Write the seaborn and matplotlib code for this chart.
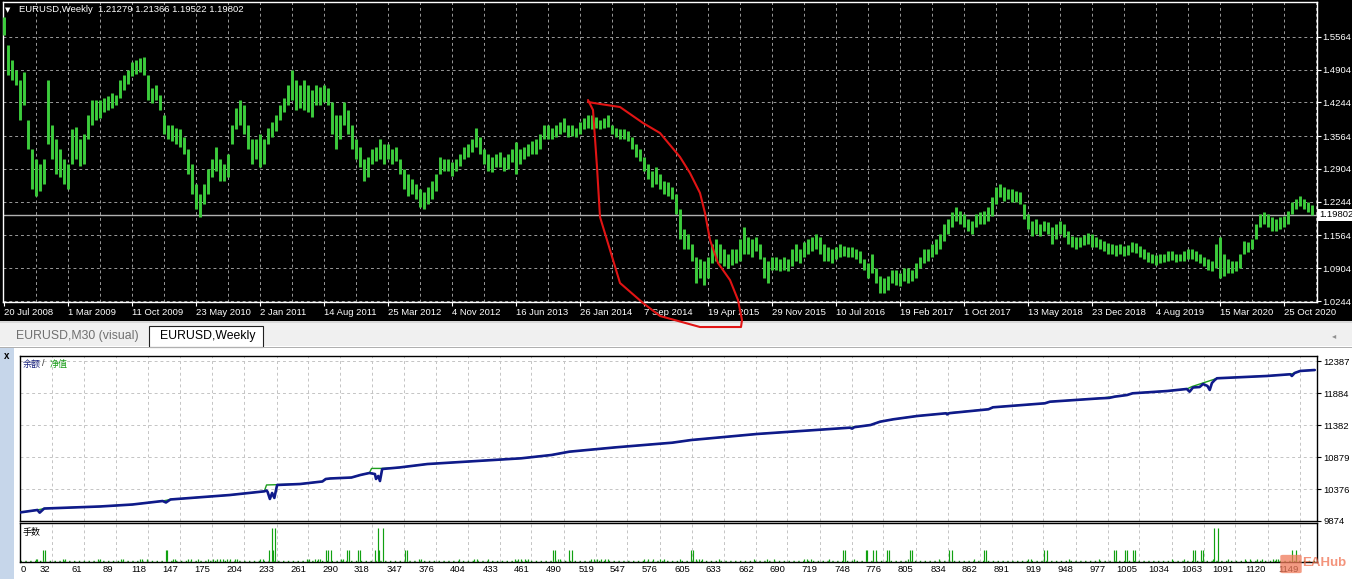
import numpy as np
import pandas as pd
import matplotlib
matplotlib.use("Agg")
import matplotlib.pyplot as plt
import matplotlib.transforms as mtransforms
from matplotlib.patches import Rectangle, FancyBboxPatch
import seaborn as sns

# ---------------- data ----------------
title_text = "EURUSD,Weekly  1.21279 1.21366 1.19522 1.19802"
last_close = 1.19802
price_ticks = [1.5564, 1.4904, 1.4244, 1.3564, 1.2904, 1.2244, 1.1564, 1.0904, 1.0244]
date_labels = ["20 Jul 2008", "1 Mar 2009", "11 Oct 2009", "23 May 2010", "2 Jan 2011",
               "14 Aug 2011", "25 Mar 2012", "4 Nov 2012", "16 Jun 2013", "26 Jan 2014",
               "7 Sep 2014", "19 Apr 2015", "29 Nov 2015", "10 Jul 2016", "19 Feb 2017",
               "1 Oct 2017", "13 May 2018", "23 Dec 2018", "4 Aug 2019", "15 Mar 2020",
               "25 Oct 2020"]

# two-week high / low of EURUSD
bar_high = [
    1.596, 1.541, 1.510, 1.490, 1.470, 1.486, 1.390, 1.330, 1.310, 1.300,
    1.310, 1.470, 1.380, 1.350, 1.330, 1.310, 1.300, 1.370, 1.376, 1.350,
    1.360, 1.400, 1.430, 1.430, 1.430, 1.434, 1.438, 1.444, 1.440, 1.470,
    1.480, 1.490, 1.506, 1.510, 1.514, 1.516, 1.480, 1.454, 1.460, 1.440,
    1.400, 1.380, 1.380, 1.374, 1.370, 1.354, 1.330, 1.300, 1.260, 1.240,
    1.260, 1.290, 1.310, 1.334, 1.310, 1.300, 1.320, 1.380, 1.414, 1.430,
    1.420, 1.380, 1.350, 1.350, 1.360, 1.350, 1.374, 1.386, 1.400, 1.420,
    1.434, 1.460, 1.490, 1.470, 1.460, 1.470, 1.460, 1.450, 1.460, 1.456,
    1.460, 1.454, 1.426, 1.400, 1.400, 1.426, 1.410, 1.380, 1.350, 1.334,
    1.310, 1.314, 1.330, 1.334, 1.350, 1.340, 1.340, 1.330, 1.334, 1.310,
    1.290, 1.280, 1.270, 1.260, 1.250, 1.244, 1.254, 1.266, 1.280, 1.314,
    1.310, 1.310, 1.304, 1.310, 1.320, 1.334, 1.340, 1.350, 1.374, 1.354,
    1.330, 1.320, 1.314, 1.320, 1.324, 1.314, 1.320, 1.330, 1.344, 1.330,
    1.334, 1.340, 1.346, 1.350, 1.360, 1.380, 1.380, 1.374, 1.380, 1.386,
    1.394, 1.380, 1.380, 1.374, 1.386, 1.394, 1.400, 1.400, 1.396, 1.390,
    1.394, 1.400, 1.380, 1.374, 1.370, 1.370, 1.366, 1.354, 1.340, 1.330,
    1.314, 1.300, 1.286, 1.294, 1.280, 1.266, 1.264, 1.254, 1.240, 1.210,
    1.170, 1.160, 1.140, 1.114, 1.110, 1.106, 1.114, 1.140, 1.150, 1.140,
    1.130, 1.120, 1.130, 1.130, 1.150, 1.174, 1.154, 1.150, 1.154, 1.140,
    1.114, 1.106, 1.114, 1.114, 1.110, 1.114, 1.110, 1.130, 1.140, 1.130,
    1.144, 1.150, 1.154, 1.160, 1.154, 1.140, 1.134, 1.130, 1.134, 1.140,
    1.136, 1.134, 1.134, 1.130, 1.126, 1.110, 1.100, 1.120, 1.090, 1.074,
    1.070, 1.074, 1.086, 1.086, 1.080, 1.090, 1.090, 1.086, 1.100, 1.114,
    1.130, 1.130, 1.140, 1.150, 1.160, 1.180, 1.190, 1.204, 1.214, 1.206,
    1.200, 1.190, 1.186, 1.200, 1.204, 1.206, 1.214, 1.234, 1.254, 1.260,
    1.254, 1.250, 1.250, 1.246, 1.244, 1.220, 1.200, 1.186, 1.190, 1.180,
    1.186, 1.184, 1.174, 1.180, 1.186, 1.180, 1.166, 1.156, 1.154, 1.154,
    1.158, 1.162, 1.160, 1.154, 1.150, 1.146, 1.142, 1.140, 1.138, 1.140,
    1.136, 1.138, 1.144, 1.142, 1.136, 1.130, 1.124, 1.120, 1.118, 1.120,
    1.120, 1.126, 1.126, 1.120, 1.120, 1.126, 1.130, 1.130, 1.126, 1.120,
    1.114, 1.110, 1.106, 1.140, 1.154, 1.120, 1.110, 1.106, 1.106, 1.120,
    1.146, 1.144, 1.150, 1.180, 1.200, 1.204, 1.200, 1.194, 1.190, 1.194,
    1.196, 1.206, 1.224, 1.230, 1.236, 1.230, 1.224, 1.218]
bar_low = [
    1.560, 1.480, 1.470, 1.460, 1.390, 1.420, 1.330, 1.250, 1.236, 1.246,
    1.260, 1.340, 1.310, 1.280, 1.274, 1.260, 1.250, 1.300, 1.310, 1.296,
    1.300, 1.350, 1.380, 1.390, 1.394, 1.406, 1.410, 1.414, 1.420, 1.434,
    1.450, 1.462, 1.478, 1.482, 1.486, 1.480, 1.430, 1.424, 1.430, 1.410,
    1.360, 1.350, 1.346, 1.340, 1.334, 1.320, 1.280, 1.240, 1.210, 1.194,
    1.220, 1.240, 1.274, 1.286, 1.266, 1.266, 1.274, 1.340, 1.370, 1.380,
    1.360, 1.330, 1.300, 1.310, 1.294, 1.300, 1.340, 1.354, 1.366, 1.390,
    1.406, 1.420, 1.430, 1.410, 1.414, 1.410, 1.406, 1.396, 1.420, 1.420,
    1.426, 1.420, 1.360, 1.330, 1.350, 1.380, 1.360, 1.330, 1.310, 1.294,
    1.266, 1.274, 1.300, 1.306, 1.310, 1.300, 1.310, 1.300, 1.306, 1.280,
    1.250, 1.236, 1.240, 1.230, 1.214, 1.210, 1.220, 1.230, 1.246, 1.280,
    1.286, 1.286, 1.276, 1.286, 1.296, 1.310, 1.314, 1.324, 1.334, 1.320,
    1.300, 1.286, 1.284, 1.294, 1.294, 1.286, 1.290, 1.304, 1.280, 1.300,
    1.310, 1.316, 1.320, 1.320, 1.330, 1.350, 1.350, 1.350, 1.354, 1.360,
    1.364, 1.354, 1.356, 1.354, 1.360, 1.370, 1.374, 1.370, 1.374, 1.370,
    1.374, 1.376, 1.360, 1.354, 1.350, 1.350, 1.346, 1.330, 1.314, 1.306,
    1.286, 1.270, 1.254, 1.260, 1.250, 1.240, 1.236, 1.230, 1.200, 1.150,
    1.130, 1.130, 1.106, 1.060, 1.070, 1.056, 1.070, 1.100, 1.106, 1.100,
    1.094, 1.090, 1.096, 1.100, 1.106, 1.120, 1.120, 1.114, 1.126, 1.110,
    1.070, 1.060, 1.086, 1.086, 1.084, 1.086, 1.084, 1.094, 1.106, 1.100,
    1.114, 1.120, 1.126, 1.130, 1.120, 1.106, 1.106, 1.100, 1.110, 1.114,
    1.116, 1.114, 1.114, 1.110, 1.100, 1.086, 1.070, 1.080, 1.060, 1.040,
    1.040, 1.046, 1.060, 1.056, 1.054, 1.064, 1.060, 1.064, 1.070, 1.090,
    1.100, 1.106, 1.114, 1.120, 1.130, 1.146, 1.160, 1.174, 1.186, 1.180,
    1.174, 1.166, 1.160, 1.174, 1.180, 1.180, 1.186, 1.196, 1.220, 1.234,
    1.226, 1.230, 1.224, 1.224, 1.220, 1.190, 1.170, 1.156, 1.160, 1.156,
    1.166, 1.160, 1.140, 1.150, 1.160, 1.154, 1.140, 1.134, 1.130, 1.134,
    1.138, 1.140, 1.134, 1.134, 1.130, 1.126, 1.120, 1.120, 1.116, 1.120,
    1.116, 1.118, 1.124, 1.122, 1.114, 1.110, 1.104, 1.100, 1.096, 1.100,
    1.104, 1.106, 1.108, 1.102, 1.106, 1.106, 1.110, 1.110, 1.106, 1.100,
    1.094, 1.086, 1.084, 1.090, 1.070, 1.074, 1.080, 1.080, 1.084, 1.090,
    1.120, 1.124, 1.130, 1.150, 1.174, 1.180, 1.174, 1.166, 1.166, 1.170,
    1.174, 1.180, 1.200, 1.210, 1.216, 1.210, 1.204, 1.198]

# hand-drawn red loop (week index, price)
loop_week = [292, 298, 308, 319.5, 328, 338, 343, 348, 350.5, 353, 357, 363, 367, 369,
             368.5, 348, 328, 319.5, 308, 301.5, 298, 296.5, 294.5, 292]
loop_price = [1.4254, 1.4214, 1.4153, 1.3831, 1.3629, 1.3146, 1.2823, 1.2420, 1.2017,
              1.1473, 1.1010, 1.0667, 1.0264, 0.9861, 0.9720, 0.9720, 0.9942, 1.0204,
              1.0607, 1.1473, 1.1937, 1.2944, 1.4093, 1.4294]

# tester graph: balance and equity by trade number
balance_trade = [0, 19, 21, 25, 75, 104, 131, 134, 138, 191, 222, 224, 225, 227, 229, 231,
                 232.5, 233.5, 254, 274, 277, 281, 300, 308, 316, 321, 322, 324, 325.5,
                 327.5, 343, 368, 452, 479, 495, 537, 587, 604, 663, 746, 748, 750, 764.5,
                 773, 785, 806.5, 832, 833, 835, 870, 874, 920.5, 925, 969, 978, 983, 994,
                 999, 1030, 1047.5, 1050, 1053, 1059, 1062, 1066, 1068, 1070, 1072.5,
                 1074.5, 1119, 1140, 1141.5, 1144, 1149, 1162]
balance_value = [10000, 10047, 10005, 10070, 10102, 10133, 10188, 10165, 10212, 10282,
                 10340, 10353, 10330, 10220, 10314, 10236, 10361, 10440, 10455, 10495,
                 10534, 10542, 10557, 10597, 10628, 10612, 10534, 10581, 10502, 10691,
                 10715, 10769, 10859, 10911, 10963, 11032, 11104, 11146, 11241, 11340,
                 11325, 11348, 11382, 11434, 11472, 11524, 11566, 11548, 11568, 11629,
                 11660, 11723, 11748, 11800, 11808, 11827, 11853, 11880, 11916, 11948,
                 11905, 11971, 11979, 12026, 11995, 11932, 12042, 12089, 12116, 12152,
                 12179, 12152, 12199, 12231, 12246]
equity_trade = [0, 19, 25, 75, 104, 131, 138, 191, 222, 224, 234, 254, 274, 277, 281, 300,
                308, 316, 318, 328, 343, 368, 452, 479, 495, 537, 587, 604, 663, 746, 750,
                764.5, 773, 785, 806.5, 832, 835, 870, 874, 920.5, 925, 969, 976, 983, 994,
                999, 1030, 1047.5, 1052, 1072, 1074.5, 1119, 1140, 1144, 1149, 1162]
equity_value = [10000, 10047, 10070, 10102, 10133, 10188, 10212, 10282, 10340, 10440,
                10445, 10455, 10495, 10534, 10542, 10557, 10597, 10628, 10700, 10700,
                10715, 10769, 10859, 10911, 10963, 11032, 11104, 11146, 11241, 11340,
                11352, 11382, 11434, 11472, 11524, 11566, 11572, 11629, 11660, 11723,
                11748, 11800, 11815, 11830, 11853, 11880, 11916, 11948, 11985, 12100,
                12116, 12152, 12179, 12199, 12231, 12246]
equity_ticks = [9874, 10376, 10879, 11382, 11884, 12387]
trade_labels = [0, 32, 61, 89, 118, 147, 175, 204, 233, 261, 290, 318, 347, 376, 404, 433,
                461, 490, 519, 547, 576, 605, 633, 662, 690, 719, 748, 776, 805, 834, 862,
                891, 919, 948, 977, 1005, 1034, 1063, 1091, 1120, 1149]

# lots per trade (only trades above the minimum lot are listed)
tiny_lot_trades = [18, 19, 42, 44, 73, 75, 94, 96, 111, 113, 117, 140, 142, 154, 156, 163,
                   172, 176, 180, 182, 185, 189, 191, 196, 198, 218, 221, 260, 262, 267,
                   270, 272, 291, 292, 360, 362, 396, 410, 412, 422, 446, 449, 452, 455,
                   458, 485, 487, 514, 517, 520, 523, 527, 530, 562, 565, 570, 576, 580,
                   594, 608, 611, 614, 629, 660, 672, 678, 705, 708, 711, 727, 750, 798,
                   826, 857, 905, 908, 942, 969, 1034, 1045, 1071, 1084, 1100, 1104, 1110,
                   1115, 1125, 1127, 1129]
small_lot_trades = [24, 26, 134, 135, 226, 230, 277, 279, 282, 296, 298, 306, 308, 321, 325,
                    348, 350, 480, 482, 495, 497, 604, 606, 740, 742, 760, 761, 767, 769,
                    779, 781, 800, 802, 835, 837, 866, 868, 920, 922, 982, 984, 992, 994,
                    999, 1001, 1053, 1055, 1060, 1062, 1142, 1145]
big_lot_trades = [229, 232, 324, 328, 1072, 1075]
tiny_lot, small_lot, big_lot = 0.02, 0.075, 0.22

# ---------------- figure ----------------
sns.set_theme(style="white")
plt.rcParams['font.family'] = ['Liberation Sans', 'Noto Sans CJK SC', 'DejaVu Sans']

W, H = 1352, 579
fig = plt.figure(figsize=(W / 100, H / 100), dpi=100, facecolor='white')


def rect(x0, y0, x1, y1):
    return [x0 / W, 1 - y1 / H, (x1 - x0) / W, (y1 - y0) / H]


def bg(x0, y0, x1, y1, color, ec='none', lw=0, z=-10):
    r = Rectangle((x0 / W, 1 - y1 / H), (x1 - x0) / W, (y1 - y0) / H,
                  transform=fig.transFigure, facecolor=color, edgecolor=ec,
                  linewidth=lw, zorder=z)
    fig.add_artist(r)


def ftext(x, y, s, **kw):
    fig.text(x / W, 1 - y / H, s, **kw)


# background regions
bg(0, 0, W, 321, 'black')
bg(0, 321, W, 323, '#d8d8d8')
bg(0, 323, W, 346, '#f0f0f0')
bg(149, 326, 263, 347, 'white', ec='#202020', lw=0.8, z=-9)
bg(0, 346, W, H, 'white', z=-11)
bg(0, 347, W, 348, '#b0b0b0', z=-9)
bg(0, 348, 14, H, '#c6d6ea', z=-9)

ftext(16, 336, "EURUSD,M30 (visual)", color='#707070', fontsize=8.8, va='center')
ftext(160, 336, "EURUSD,Weekly", color='black', fontsize=8.8, va='center')
ftext(1332, 336, "\u25c2", color='#909090', fontsize=6, va='center', family='DejaVu Sans')
ftext(4, 356, "x", color='black', fontsize=7, fontweight='bold', va='center')

# ---------------- price chart ----------------
green = '#3ccc3c'
ax1 = fig.add_axes(rect(3, 2, 1317, 302))
ax1.set_facecolor('black')
ax1.set_zorder(2)
weeks = np.arange(len(bar_high)) * 2
ax1.vlines(weeks, bar_low, bar_high, color=green, linewidth=2.1, zorder=3)
ax1.set_xlim(-0.5, 656.5)
ax1.set_ylim(1.0224, 1.6269)

grid_kw = dict(color='#9a9a9a', linewidth=0.7, linestyle=(0, (3, 3)), zorder=1)
for w in range(16, 657, 16):
    ax1.axvline(w, **grid_kw)
for p in price_ticks:
    ax1.axhline(p, **grid_kw)
ax1.axhline(last_close, color='#b0b0b0', linewidth=1.0, zorder=2)

ax1.set_xticks(np.arange(0, 656, 32))
ax1.set_xticklabels(date_labels)
for lbl in ax1.get_xticklabels():
    lbl.set_ha('left')
ax1.yaxis.tick_right()
ax1.set_yticks(price_ticks)
ax1.set_yticklabels([f"{p:.4f}" for p in price_ticks])
ax1.tick_params(axis='both', colors='white', labelcolor='white', labelsize=6.8,
                length=3, width=0.8, direction='out', pad=1)
ax1.tick_params(axis='x', bottom=True)
ax1.tick_params(axis='y', right=True, left=False)
for s in ax1.spines.values():
    s.set_color('white')
    s.set_linewidth(1.0)

ax1.annotate(f"{last_close:.5f}", xy=(1.0, last_close), xycoords=('axes fraction', 'data'),
             xytext=(2, 0), textcoords='offset points', va='center', ha='left',
             fontsize=6.8, color='black', annotation_clip=False,
             bbox=dict(boxstyle='square,pad=0.15', fc='white', ec='none'))

ax1.plot(loop_week, loop_price, color='#e11414', linewidth=1.5, clip_on=False, zorder=10,
         solid_capstyle='round')

ftext(5, 10, "\u25bc", color='white', fontsize=5, va='center', family='DejaVu Sans')
ftext(19, 10, title_text, color='white', fontsize=6.8, va='center')

# ---------------- tester graph ----------------
ax2 = fig.add_axes(rect(20, 356, 1317, 521))
ax3 = fig.add_axes(rect(20, 523, 1317, 562))
xl = (3.4, 1164)
gkw = dict(color='#c4c4c4', linewidth=0.7, linestyle=(0, (3, 3)), zorder=0)
for ax in (ax2, ax3):
    ax.set_facecolor('white')
    ax.set_xlim(*xl)
    for s in ax.spines.values():
        s.set_color('black')
        s.set_linewidth(1.0)
    for v in trade_labels[1:]:
        ax.axvline(v, **gkw)
    ax.set_xticks([])

ax2.set_ylim(9874, 12466)
for v in equity_ticks[1:]:
    ax2.axhline(v, **gkw)

eq_df = pd.DataFrame({"trade": equity_trade, "value": equity_value})
bal_df = pd.DataFrame({"trade": balance_trade, "value": balance_value})
sns.lineplot(data=eq_df, x="trade", y="value", ax=ax2, color='#1f9e1f', linewidth=1.0,
             estimator=None, sort=False, zorder=2)
sns.lineplot(data=bal_df, x="trade", y="value", ax=ax2, color='#0f1a8a', linewidth=1.9,
             estimator=None, sort=False, zorder=3)
ax2.set_xlabel("")
ax2.set_ylabel("")
ax2.set_xticks([])
ax2.set_xlim(*xl)
ax2.yaxis.tick_right()
ax2.set_yticks(equity_ticks)
ax2.set_yticklabels([str(v) for v in equity_ticks])
ax2.tick_params(axis='y', right=True, left=False, colors='black', labelsize=6.8,
                length=3, width=0.8, direction='out', pad=1.5)

ftext(23, 364, "余额", color='#1a237e', fontsize=6.5, va='center', family='Noto Sans CJK SC')
ftext(42, 364, "/", color='#303030', fontsize=6.5, va='center')
ftext(50, 364, "净值", color='#1a9e1a', fontsize=6.5, va='center', family='Noto Sans CJK SC')
ftext(23, 532, "手数", color='black', fontsize=6.5, va='center', family='Noto Sans CJK SC')

lot_trade = tiny_lot_trades + small_lot_trades + big_lot_trades
lot_size = ([tiny_lot] * len(tiny_lot_trades) + [small_lot] * len(small_lot_trades)
            + [big_lot] * len(big_lot_trades))
ax3.set_ylim(0, 0.25)
ax3.vlines(lot_trade, 0, lot_size, color='#11a011', linewidth=0.85, zorder=3)
ax3.axhline(0.006, color='#11a011', linewidth=1.0, linestyle=(0, (1, 2.5)), zorder=2)
ax3.set_yticks([])

tr = mtransforms.blended_transform_factory(ax3.transData, ax3.transAxes)
tr_r = mtransforms.offset_copy(tr, fig=fig, x=-2, y=0, units='dots')
for v in trade_labels[1:]:
    ax3.text(v, -0.2, str(v), transform=tr_r, ha='right', va='center', fontsize=6.8,
             color='black', clip_on=False)
ax3.text(xl[0], -0.2, "0", transform=mtransforms.offset_copy(tr, fig=fig, x=1, y=0, units='dots'),
         ha='left', va='center', fontsize=6.8, color='black', clip_on=False)

# watermark
fig.add_artist(FancyBboxPatch((1283 / W, 1 - 572 / H), 16 / W, 16 / H,
                              boxstyle='round,pad=0.002', transform=fig.transFigure,
                              fc='#f07a5a', ec='none', alpha=0.75, zorder=20))
ftext(1302, 563, "EAHub", color='#f07050', fontsize=9.5, fontweight='bold', va='center',
      alpha=0.75, zorder=20)

fig.savefig("out.png", dpi=100, facecolor=fig.get_facecolor())
